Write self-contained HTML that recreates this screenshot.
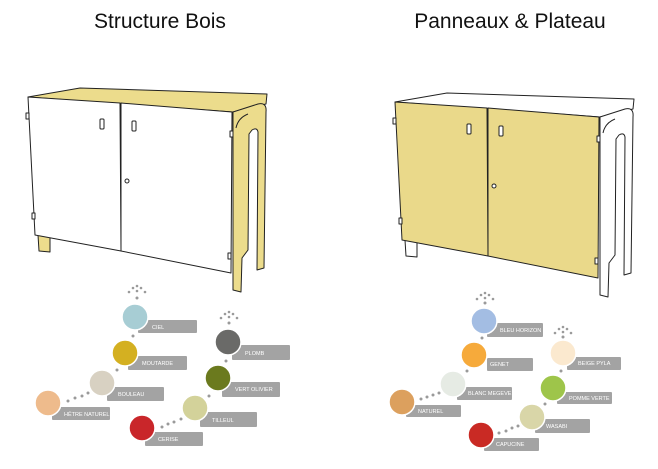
<!DOCTYPE html>
<html><head><meta charset="utf-8"><style>
html,body{margin:0;padding:0;background:#fff;}
svg{display:block}
text{font-family:"Liberation Sans",sans-serif}
.t{font-size:21px;fill:#111}
.l{font-size:5.5px;fill:#fff}
</style></head><body>
<svg width="658" height="469" viewBox="0 0 658 469" xmlns="http://www.w3.org/2000/svg">
<defs>
<g id="cab" stroke="#222" stroke-width="1" stroke-linejoin="round">
  <polygon points="28,97 80,88 267,94 266,104 233,112" fill="var(--top)"/>
  <polygon points="38,235 50,237 50,252 39,251" fill="var(--str)"/>
  <path d="M233,112 L258,104 Q267,102 266,112 L264,268 L257,270 L258,132 Q257,127 252,130 L249,134 L248,250 L242,258 L241,292 L233,290 Z" fill="var(--str)"/>
  <path d="M236,128 Q238,118 248,114" fill="none"/>
  <polygon points="28,97 120,103 121,251 35,235" fill="var(--door)"/>
  <polygon points="121,103 232,112 231,273 121,251" fill="var(--door)"/>
  <rect x="100" y="119" width="4" height="10" rx="1" fill="#fff"/>
  <rect x="132" y="121" width="4" height="10" rx="1" fill="#fff"/>
  <circle cx="127" cy="181" r="2" fill="#fff"/>
  <rect x="26" y="113" width="3" height="6" fill="#fff"/>
  <rect x="32" y="213" width="3" height="6" fill="#fff"/>
  <rect x="230" y="131" width="3" height="6" fill="#fff"/>
  <rect x="228" y="253" width="3" height="6" fill="#fff"/>
</g>
</defs>
<text class="t" x="160" y="28" text-anchor="middle">Structure Bois</text>
<text class="t" x="510" y="28" text-anchor="middle">Panneaux &amp; Plateau</text>

<use href="#cab" style="--top:#ecdc8c;--str:#ecdc8c;--door:#fff"/>
<use href="#cab" transform="translate(367,5)" style="--top:#fff;--str:#fff;--door:#ead98a"/>

<g fill="#a3a3a3">
<rect x="138" y="320" width="59" height="13" rx="1"/>
<rect x="128" y="356" width="59" height="14" rx="1"/>
<rect x="107" y="387" width="57" height="14" rx="1"/>
<rect x="52" y="407" width="58" height="13" rx="1"/>
<rect x="232" y="345" width="58" height="15" rx="1"/>
<rect x="222" y="382" width="58" height="15" rx="1"/>
<rect x="200" y="412" width="57" height="15" rx="1"/>
<rect x="145" y="432" width="58" height="14" rx="1"/>
<rect x="487" y="323" width="56" height="14" rx="1"/>
<rect x="487" y="358" width="46" height="13" rx="1"/>
<rect x="457" y="387" width="55" height="13" rx="1"/>
<rect x="406" y="405" width="55" height="12" rx="1"/>
<rect x="567" y="357" width="54" height="13" rx="1"/>
<rect x="557" y="392" width="55" height="12" rx="1"/>
<rect x="535" y="419" width="55" height="14" rx="1"/>
<rect x="484" y="438" width="55" height="13" rx="1"/>
</g>
<g fill="#9a9a9a">
<circle cx="68" cy="401" r="1.5"/><circle cx="75" cy="398" r="1.5"/><circle cx="82" cy="396" r="1.5"/><circle cx="88" cy="393" r="1.5"/>
<circle cx="117" cy="370" r="1.5"/><circle cx="133" cy="336" r="1.5"/><circle cx="137" cy="298" r="1.5"/>
<circle cx="137" cy="286" r="1.3"/><circle cx="133" cy="288" r="1.3"/><circle cx="141" cy="288" r="1.3"/><circle cx="129" cy="292" r="1.3"/><circle cx="137" cy="291" r="1.3"/><circle cx="145" cy="292" r="1.3"/>
<circle cx="162" cy="427" r="1.5"/><circle cx="168" cy="424" r="1.5"/><circle cx="174" cy="422" r="1.5"/><circle cx="181" cy="419" r="1.5"/>
<circle cx="209" cy="396" r="1.5"/><circle cx="226" cy="361" r="1.5"/><circle cx="229" cy="323" r="1.5"/>
<circle cx="229" cy="312" r="1.3"/><circle cx="225" cy="314" r="1.3"/><circle cx="233" cy="314" r="1.3"/><circle cx="221" cy="318" r="1.3"/><circle cx="229" cy="317" r="1.3"/><circle cx="237" cy="318" r="1.3"/>
<circle cx="421" cy="399" r="1.5"/><circle cx="427" cy="397" r="1.5"/><circle cx="433" cy="395" r="1.5"/><circle cx="439" cy="393" r="1.5"/>
<circle cx="467" cy="371" r="1.5"/><circle cx="482" cy="338" r="1.5"/><circle cx="485" cy="303" r="1.5"/>
<circle cx="485" cy="293" r="1.3"/><circle cx="481" cy="295" r="1.3"/><circle cx="489" cy="295" r="1.3"/><circle cx="477" cy="299" r="1.3"/><circle cx="485" cy="298" r="1.3"/><circle cx="493" cy="299" r="1.3"/>
<circle cx="499" cy="433" r="1.5"/><circle cx="506" cy="431" r="1.5"/><circle cx="512" cy="428" r="1.5"/><circle cx="518" cy="426" r="1.5"/>
<circle cx="545" cy="404" r="1.5"/><circle cx="561" cy="371" r="1.5"/><circle cx="563" cy="337" r="1.5"/>
<circle cx="563" cy="327" r="1.3"/><circle cx="559" cy="329" r="1.3"/><circle cx="567" cy="329" r="1.3"/><circle cx="555" cy="333" r="1.3"/><circle cx="563" cy="332" r="1.3"/><circle cx="571" cy="333" r="1.3"/>
</g>
<g stroke="#fff" stroke-width="1.5">
<circle cx="135" cy="317" r="13" fill="#a7cdd4"/>
<circle cx="125" cy="353" r="13" fill="#d4b021"/>
<circle cx="102" cy="383" r="13" fill="#d8d1c2"/>
<circle cx="48" cy="403" r="13" fill="#eebb8c"/>
<circle cx="228" cy="342" r="13" fill="#6a6a68"/>
<circle cx="218" cy="378" r="13" fill="#6b7a1e"/>
<circle cx="195" cy="408" r="13" fill="#d3d29a"/>
<circle cx="142" cy="428" r="13" fill="#c9262a"/>
<circle cx="484" cy="321" r="13" fill="#a3bde3"/>
<circle cx="474" cy="355" r="13" fill="#f6aa3b"/>
<circle cx="453" cy="384" r="13" fill="#e6ebe4"/>
<circle cx="402" cy="402" r="13" fill="#dca05e"/>
<circle cx="563" cy="353" r="13" fill="#fbe9cf"/>
<circle cx="553" cy="388" r="13" fill="#9ec54a"/>
<circle cx="532" cy="417" r="13" fill="#d9d6a8"/>
<circle cx="481" cy="435" r="13" fill="#c92a24"/>
</g>
<g>
<text class="l" x="152" y="329">CIEL</text>
<text class="l" x="142" y="365">MOUTARDE</text>
<text class="l" x="118" y="396">BOULEAU</text>
<text class="l" x="64" y="416">HÊTRE NATUREL</text>
<text class="l" x="245" y="355">PLOMB</text>
<text class="l" x="235" y="391">VERT OLIVIER</text>
<text class="l" x="212" y="422">TILLEUL</text>
<text class="l" x="158" y="441">CERISE</text>
<text class="l" x="500" y="332">BLEU HORIZON</text>
<text class="l" x="490" y="366">GENET</text>
<text class="l" x="468" y="395">BLANC MEGEVE</text>
<text class="l" x="418" y="413">NATUREL</text>
<text class="l" x="578" y="365">BEIGE PYLA</text>
<text class="l" x="569" y="400">POMME VERTE</text>
<text class="l" x="546" y="428">WASABI</text>
<text class="l" x="496" y="446">CAPUCINE</text>
</g>
</svg>
</body></html>
